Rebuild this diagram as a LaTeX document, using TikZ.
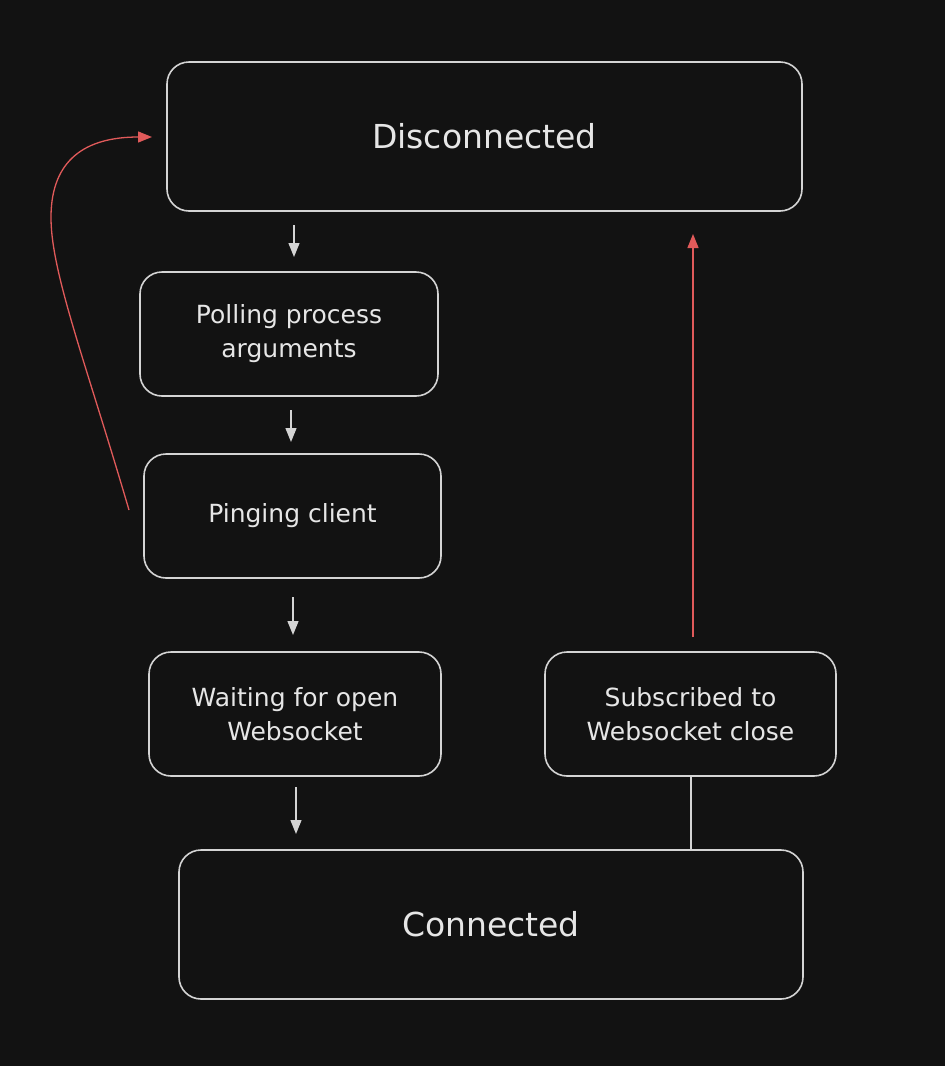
\documentclass[tikz,border=0pt]{standalone}
\usepackage{fontspec}
\setmainfont{DejaVu Sans}
\usetikzlibrary{arrows.meta}
\definecolor{bg}{HTML}{121212}
\definecolor{ln}{HTML}{D4D4D4}
\definecolor{tx}{HTML}{E6E6E6}
\definecolor{rd}{HTML}{E05A5A}
\begin{document}
\begin{tikzpicture}[x=1pt,y=-1pt,
  box/.style={draw=ln,line width=1.6pt,rounded corners=22pt,text=tx,align=center,inner sep=0pt},
  small/.style={font=\fontsize{25}{34}\selectfont},
  big/.style={font=\fontsize{33}{38}\selectfont},
  flow/.style={draw=ln,line width=1.3pt,-{Triangle[length=14pt,width=11pt]}},
  back/.style={draw=rd,line width=1.3pt,-{Triangle[length=14pt,width=11pt]}}]
\fill[bg] (0,0) rectangle (945,1066);
\useasboundingbox (0,0) rectangle (945,1066);
\node[box,big,minimum width=635pt,minimum height=149pt] (disc) at (484.5,136.5) {Disconnected};
\node[box,small,minimum width=298pt,minimum height=124pt] (poll) at (289,334) {Polling process\\arguments};
\node[box,small,minimum width=297pt,minimum height=124pt] (ping) at (292.5,516) {Pinging client};
\node[box,small,minimum width=292pt,minimum height=124pt] (wait) at (295,714) {Waiting for open\\Websocket};
\node[box,small,minimum width=291pt,minimum height=124pt] (subs) at (690.5,714) {Subscribed to\\Websocket close};
\node[box,big,minimum width=624pt,minimum height=149pt] (conn) at (491,924.5) {Connected};
\coordinate (a1) at (294,225); \coordinate (a1e) at (294,257);
\coordinate (a2) at (291,410); \coordinate (a2e) at (291,442);
\coordinate (a3) at (293,597); \coordinate (a3e) at (293,635);
\coordinate (a4) at (296,787); \coordinate (a4e) at (296,834);
\draw[flow] (a1) -- (a1e);
\draw[flow] (a2) -- (a2e);
\draw[flow] (a3) -- (a3e);
\draw[flow] (a4) -- (a4e);
\coordinate (r1) at (693,637); \coordinate (r1e) at (693,234);
\draw[back] (r1) -- (r1e);
\draw[draw=ln,line width=1.3pt] (subs.south -| 691,0) -- (conn.north -| 691,0);
\coordinate (c1) at (129,510); \coordinate (c1m) at (51,215); \coordinate (c1e) at (152,137);
\draw[back] (c1) .. controls (85,360) and (50,270) .. (c1m) .. controls (52,160) and (85,137) .. (c1e);
\end{tikzpicture}
\end{document}
